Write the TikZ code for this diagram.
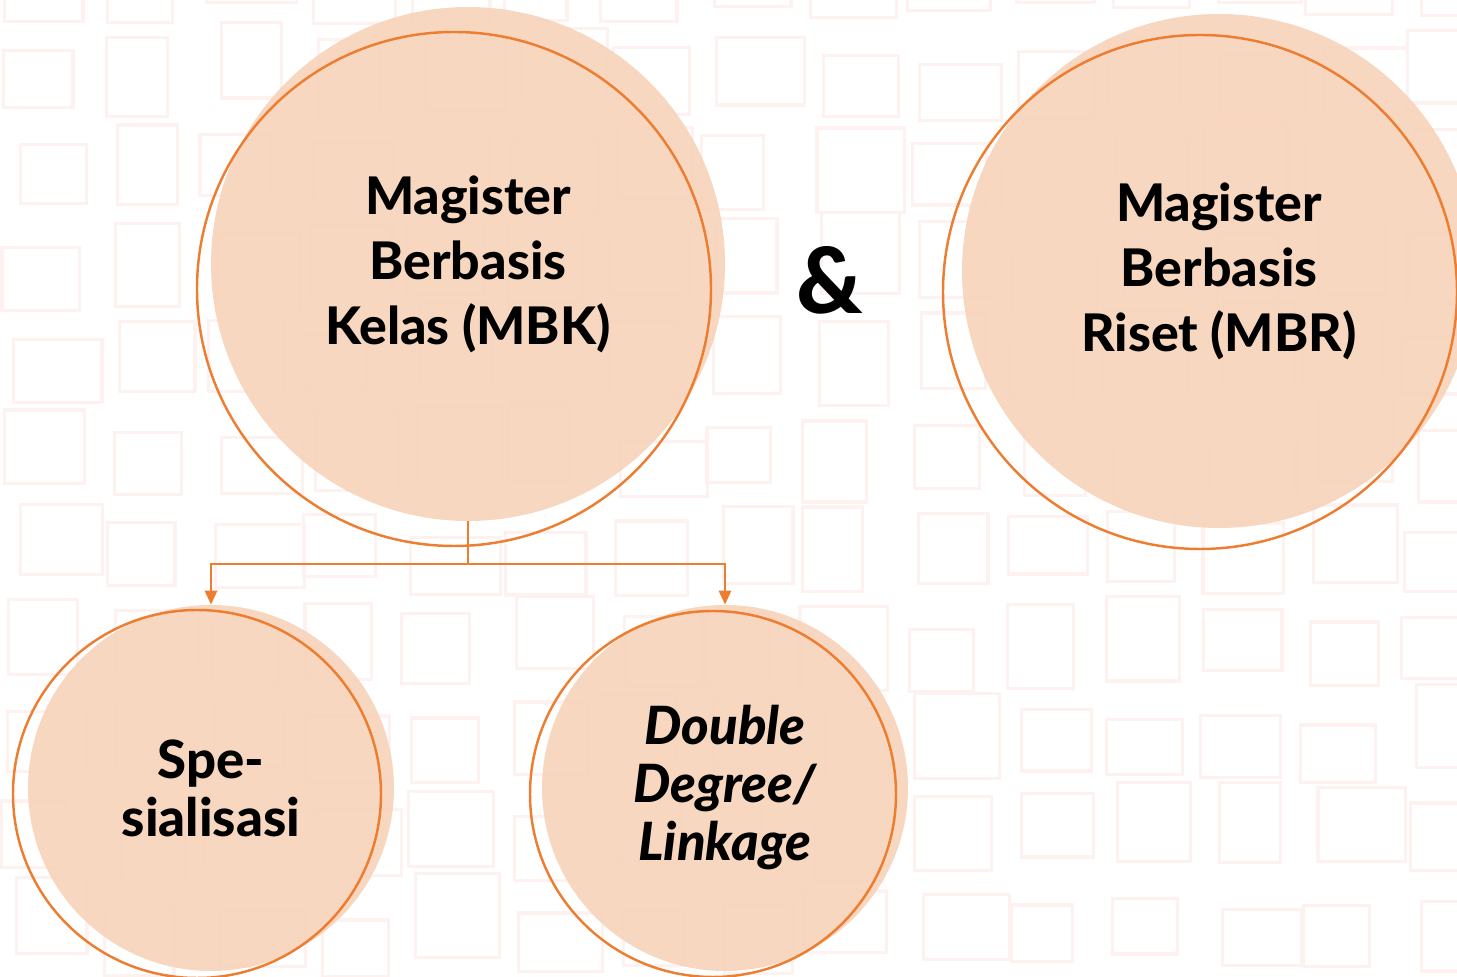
\documentclass[tikz,border=0pt]{standalone}
\usepackage{fontspec}
\setmainfont{Lato}[BoldFont={Lato Heavy},BoldItalicFont={Lato Heavy Italic}]
\usepackage{tikz}
\usetikzlibrary{arrows.meta}

\definecolor{accent}{HTML}{ED7D31}
\definecolor{peach}{HTML}{F7D4BB}
\definecolor{faint}{HTML}{FDF2F0}

\tikzset{
	ball/.style={circle,fill=peach,fill opacity=0.94,text opacity=1,inner sep=0pt,align=center,font=\bfseries},
	bigball/.style={ball,minimum size=10.28cm,font=\bfseries\fontsize{29.5}{37}\selectfont},
	smallball/.style={ball,minimum size=7.32cm,font=\bfseries\fontsize{30}{33}\selectfont},
	ring/.style={circle,draw=accent,line width=1.4pt,inner sep=0pt},
	link/.style={draw=accent,line width=1.3pt,-{Triangle[length=8pt,width=7pt]}},
	bgline/.style={draw=faint,line width=1.8pt}
}

\begin{document}
\begin{tikzpicture}
	\useasboundingbox (0,0) rectangle (29.14,19.54);
	% faint background blocks
	\begin{scope}
		\clip (0,0) rectangle (29.14,19.54);
		\pgfmathsetseed{11}
		\foreach \i in {0,...,14}
			\foreach \j in {0,...,10} {
				\pgfmathsetmacro\dx{rnd*0.5}
				\pgfmathsetmacro\dy{rnd*0.5}
				\pgfmathsetmacro\w{1.2+rnd*0.6}
				\pgfmathsetmacro\h{1.1+rnd*0.6}
				\draw[bgline] (\i*2+\dx,\j*1.9+\dy) rectangle ++(\w,\h);
			}
	\end{scope}

	\node[bigball] (mbk) at (9.36,14.26) {Magister\\Berbasis\\Kelas (MBK)};
	\node[ring,minimum size=10.28cm] (mbkring) at (9.08,13.76) {};

	\node[bigball] (mbr) at (24.38,14.12) {Magister\\Berbasis\\Riset (MBR)};
	\node[ring,minimum size=10.28cm] (mbrring) at (24.0,13.70) {};

	\node[font=\bfseries\fontsize{52}{52}\selectfont] (amp) at (16.6,13.94) {\&};

	\node[smallball] (spes) at (4.22,3.78) {Spe-\\sialisasi};
	\node[ring,minimum size=7.36cm] (spesring) at (3.94,3.66) {};

	\node[smallball,font=\bfseries\itshape\fontsize{30}{33}\selectfont] (dd) at (14.5,3.78) {Double\\Degree/\\Linkage};
	\node[ring,minimum size=7.32cm] (ddring) at (14.26,3.66) {};

	\draw[accent,line width=1.3pt] (mbk.south) -- ++(0,-0.86) coordinate (split);
	\draw[link] (split) -| (spes.north);
	\draw[link] (split) -| (dd.north);
\end{tikzpicture}
\end{document}
